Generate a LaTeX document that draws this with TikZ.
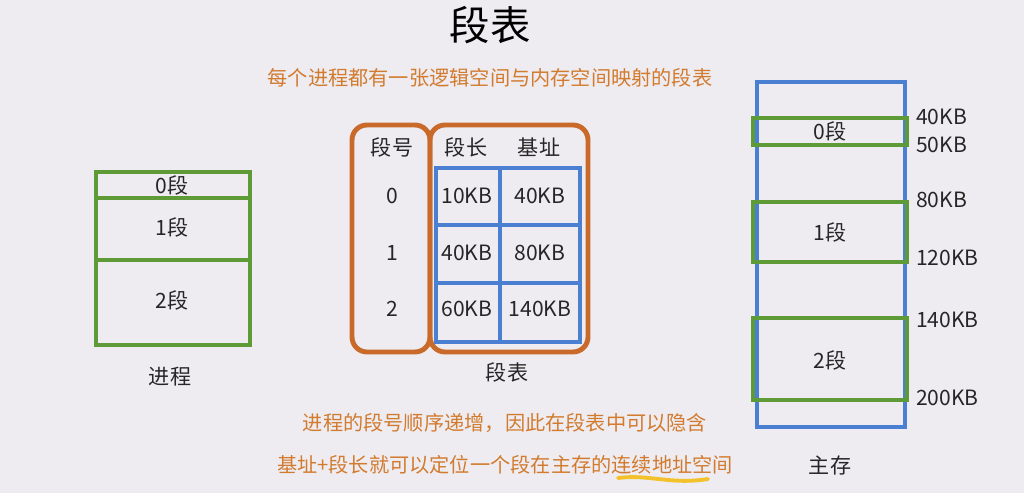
\documentclass[tikz,border=0pt]{standalone}
\usepackage{fontspec}
\setmainfont{Noto Sans CJK SC}
\definecolor{bg}{HTML}{EEECF1}
\definecolor{seggreen}{HTML}{5E9A35}
\definecolor{segblue}{HTML}{4A7FD2}
\definecolor{segorange}{HTML}{C96A2B}
\definecolor{txtorange}{HTML}{D27B2E}
\definecolor{hlyellow}{HTML}{F3C12C}
\tikzset{
  gbox/.style={draw=seggreen,line width=2.8pt},
  bbox/.style={draw=segblue,line width=2.8pt},
  obox/.style={draw=segorange,line width=2.8pt,rounded corners=0.3cm},
  lab/.style={font=\fontsize{12}{14}\selectfont,text=black!85},
  note/.style={font=\fontsize{11.5}{14}\selectfont,text=txtorange}
}
\begin{document}
\begin{tikzpicture}[x=0.02cm,y=-0.02cm]
    \fill[bg] (0,0) rectangle (1024,493);

    \node[font=\fontsize{23}{26}\selectfont] (title) at (490,25) {段表};
    \node[note] (sub) at (490,78) {每个进程都有一张逻辑空间与内存空间映射的段表};

    \draw[gbox] (96,172) rectangle (250,345);
    \draw[gbox] (96,198) -- (250,198);
    \draw[gbox] (96,260) -- (250,260);
    \node[lab] (p0) at (172,185) {0段};
    \node[lab] (p1) at (172,227) {1段};
    \node[lab] (p2) at (172,300) {2段};
    \node[lab] (proc) at (170,377) {进程};

    \draw[obox] (352,125) rectangle (430,352);
    \draw[obox] (430,125) rectangle (588,352);
    \draw[bbox] (436,168) rectangle (580,342);
    \draw[bbox] (500,168) -- (500,342);
    \draw[bbox] (436,225) -- (580,225);
    \draw[bbox] (436,283) -- (580,283);
    \node[lab] (hno) at (392,147) {段号};
    \node[lab] (hlen) at (466,147) {段长};
    \node[lab] (hbase) at (539,147) {基址};
    \node[lab] (n0) at (392,196) {0};
    \node[lab] (n1) at (392,253) {1};
    \node[lab] (n2) at (392,309) {2};
    \node[lab] (l0) at (467,196) {10KB};
    \node[lab] (l1) at (467,253) {40KB};
    \node[lab] (l2) at (467,309) {60KB};
    \node[lab] (b0) at (540,196) {40KB};
    \node[lab] (b1) at (540,253) {80KB};
    \node[lab] (b2) at (540,309) {140KB};
    \node[lab] (tab) at (507,372) {段表};

    \draw[bbox] (757,82) rectangle (905,427);
    \draw[gbox] (753,118) rectangle (907,145);
    \draw[gbox] (753,202) rectangle (907,262);
    \draw[gbox] (753,318) rectangle (907,400);
    \node[lab] (m0) at (830,131) {0段};
    \node[lab] (m1) at (830,232) {1段};
    \node[lab] (m2) at (830,360) {2段};
    \node[lab,anchor=west] (a40) at (910,117) {40KB};
    \node[lab,anchor=west] (a50) at (910,145) {50KB};
    \node[lab,anchor=west] (a80) at (910,200) {80KB};
    \node[lab,anchor=west] (a120) at (910,258) {120KB};
    \node[lab,anchor=west] (a140) at (910,320) {140KB};
    \node[lab,anchor=west] (a200) at (910,398) {200KB};
    \node[lab] (mem) at (830,465) {主存};

    \node[note] (line1) at (505,423) {进程的段号顺序递增，因此在段表中可以隐含};
    \node[note] (line2) at (505,465) {基址+段长就可以定位一个段在主存的连续地址空间};
    \draw[hlyellow,line width=2.2pt,line cap=round] (618,478) .. controls (650,474) and (670,485) .. (708,479);
\end{tikzpicture}
\end{document}
